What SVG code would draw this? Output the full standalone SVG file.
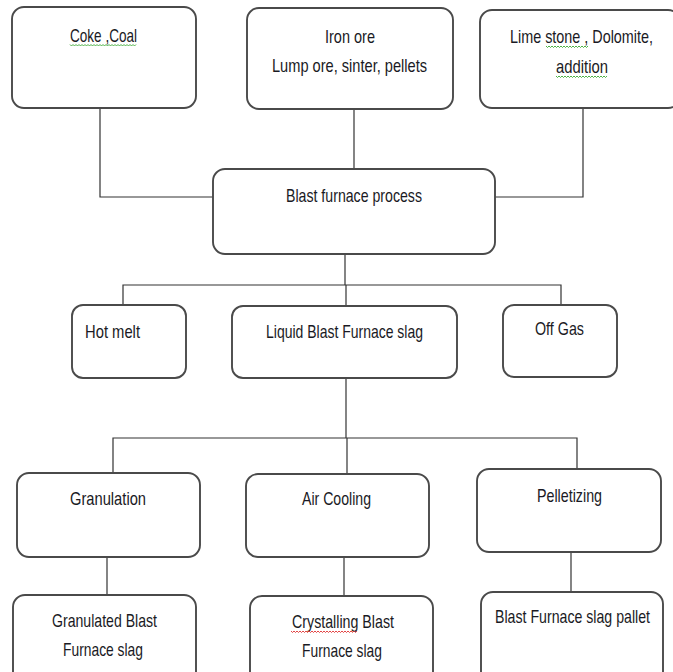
<svg xmlns="http://www.w3.org/2000/svg" width="673" height="672" viewBox="0 0 673 672">
<style>
.box{fill:#fff;stroke:#4a4a4a;stroke-width:1.9}
.lbl{font-family:"Liberation Sans Narrow","Liberation Sans",Arial,sans-serif;font-size:19px;fill:#1a1a24;text-anchor:middle}
.conn{fill:none;stroke:#333;stroke-width:1.2}
.sqg{fill:none;stroke:#3aa832;stroke-width:0.9}
.sqr{fill:none;stroke:#e03030;stroke-width:0.9}
</style>
<rect width="673" height="672" fill="#fff"/>
<g id="connectors">
<path class="conn" d="M100,108 V197 H213"/>
<path class="conn" d="M354,109 V169"/>
<path class="conn" d="M583,108 V197 H495"/>
<path class="conn" d="M345,254 V285"/>
<path class="conn" d="M123,305 V285 H561 V305"/>
<path class="conn" d="M346,285 V306"/>
<path class="conn" d="M346,378 V438"/>
<path class="conn" d="M113,473 V438 H577 V469"/>
<path class="conn" d="M347,438 V474"/>
<path class="conn" d="M107,557 V595"/>
<path class="conn" d="M344,557 V597"/>
<path class="conn" d="M571,552 V593"/>
</g>
<g id="coke">
<rect class="box" x="12" y="7" width="184" height="101" rx="12"/>
<text class="lbl" x="103.5" y="42" textLength="67" lengthAdjust="spacingAndGlyphs">Coke ,Coal</text>
</g>
<g id="iron">
<rect class="box" x="247" y="8" width="206" height="101" rx="12"/>
<text class="lbl" x="350" y="43" textLength="50" lengthAdjust="spacingAndGlyphs">Iron ore</text>
<text class="lbl" x="349.5" y="72" textLength="155" lengthAdjust="spacingAndGlyphs">Lump ore, sinter, pellets</text>
</g>
<g id="lime">
<rect class="box" x="480" y="10" width="200" height="98" rx="12"/>
<text class="lbl" x="581.5" y="43" textLength="143" lengthAdjust="spacingAndGlyphs">Lime stone , Dolomite,</text>
<text class="lbl" x="582" y="73" textLength="52" lengthAdjust="spacingAndGlyphs">addition</text>
</g>
<g id="blast">
<rect class="box" x="213" y="169" width="282" height="85" rx="12"/>
<text class="lbl" x="354" y="202" textLength="136" lengthAdjust="spacingAndGlyphs">Blast furnace process</text>
</g>
<g id="hotmelt">
<rect class="box" x="72" y="305" width="114" height="73" rx="11"/>
<text class="lbl" x="112.5" y="338" textLength="55" lengthAdjust="spacingAndGlyphs">Hot melt</text>
</g>
<g id="liquid">
<rect class="box" x="232" y="306" width="225" height="72" rx="11"/>
<text class="lbl" x="344.5" y="338" textLength="157" lengthAdjust="spacingAndGlyphs">Liquid Blast Furnace slag</text>
</g>
<g id="offgas">
<rect class="box" x="503" y="305" width="114" height="72" rx="11"/>
<text class="lbl" x="559.5" y="335" textLength="49" lengthAdjust="spacingAndGlyphs">Off Gas</text>
</g>
<g id="granulation">
<rect class="box" x="17" y="473" width="183" height="84" rx="12"/>
<text class="lbl" x="108" y="505" textLength="76" lengthAdjust="spacingAndGlyphs">Granulation</text>
</g>
<g id="aircooling">
<rect class="box" x="246" y="474" width="183" height="83" rx="12"/>
<text class="lbl" x="336.5" y="505" textLength="69" lengthAdjust="spacingAndGlyphs">Air Cooling</text>
</g>
<g id="pelletizing">
<rect class="box" x="477" y="469" width="184" height="83" rx="12"/>
<text class="lbl" x="569.5" y="502" textLength="65" lengthAdjust="spacingAndGlyphs">Pelletizing</text>
</g>
<g id="granulated">
<rect class="box" x="13" y="595" width="183" height="100" rx="12"/>
<text class="lbl" x="104.5" y="627" textLength="105" lengthAdjust="spacingAndGlyphs">Granulated Blast</text>
<text class="lbl" x="103" y="656" textLength="80" lengthAdjust="spacingAndGlyphs">Furnace slag</text>
</g>
<g id="crystalling">
<rect class="box" x="250" y="596" width="183" height="100" rx="12"/>
<text class="lbl" x="343" y="628" textLength="102" lengthAdjust="spacingAndGlyphs">Crystalling Blast</text>
<text class="lbl" x="342" y="657" textLength="80" lengthAdjust="spacingAndGlyphs">Furnace slag</text>
</g>
<g id="pallet">
<rect class="box" x="481" y="592" width="182" height="100" rx="12"/>
<text class="lbl" x="572.5" y="623" textLength="155" lengthAdjust="spacingAndGlyphs">Blast Furnace slag pallet</text>
</g>
<g id="spellcheck">
<path class="sqg" d="M70,44.5 l1.5,1.5 l1.5,-1.5 l1.5,1.5 l1.5,-1.5 l1.5,1.5 l1.5,-1.5 l1.5,1.5 l1.5,-1.5 l1.5,1.5 l1.5,-1.5 l1.5,1.5 l1.5,-1.5 l1.5,1.5 l1.5,-1.5 l1.5,1.5 l1.5,-1.5 l1.5,1.5 l1.5,-1.5 l1.5,1.5 l1.5,-1.5 l1.5,1.5 l1.5,-1.5 l1.5,1.5 l1.5,-1.5 l1.5,1.5 l1.5,-1.5 l1.5,1.5 l1.5,-1.5 l1.5,1.5 l1.5,-1.5 l1.5,1.5 l1.5,-1.5 l1.5,1.5 l1.5,-1.5 l1.5,1.5 l1.5,-1.5 l1.5,1.5 l1.5,-1.5 l1.5,1.5 l1.5,-1.5 l1.5,1.5 l1.5,-1.5 l1.5,1.5 l1.5,-1.5"/>
<path class="sqg" d="M546,46 l1.5,1.5 l1.5,-1.5 l1.5,1.5 l1.5,-1.5 l1.5,1.5 l1.5,-1.5 l1.5,1.5 l1.5,-1.5 l1.5,1.5 l1.5,-1.5 l1.5,1.5 l1.5,-1.5 l1.5,1.5 l1.5,-1.5 l1.5,1.5 l1.5,-1.5 l1.5,1.5 l1.5,-1.5 l1.5,1.5 l1.5,-1.5 l1.5,1.5 l1.5,-1.5 l1.5,1.5 l1.5,-1.5 l1.5,1.5 l1.5,-1.5 l1.5,1.5 l1.5,-1.5"/>
<path class="sqg" d="M556,76 l1.5,1.5 l1.5,-1.5 l1.5,1.5 l1.5,-1.5 l1.5,1.5 l1.5,-1.5 l1.5,1.5 l1.5,-1.5 l1.5,1.5 l1.5,-1.5 l1.5,1.5 l1.5,-1.5 l1.5,1.5 l1.5,-1.5 l1.5,1.5 l1.5,-1.5 l1.5,1.5 l1.5,-1.5 l1.5,1.5 l1.5,-1.5 l1.5,1.5 l1.5,-1.5 l1.5,1.5 l1.5,-1.5 l1.5,1.5 l1.5,-1.5 l1.5,1.5 l1.5,-1.5 l1.5,1.5 l1.5,-1.5 l1.5,1.5 l1.5,-1.5 l1.5,1.5 l1.5,-1.5"/>
<path class="sqr" d="M291,631 l1.5,1.5 l1.5,-1.5 l1.5,1.5 l1.5,-1.5 l1.5,1.5 l1.5,-1.5 l1.5,1.5 l1.5,-1.5 l1.5,1.5 l1.5,-1.5 l1.5,1.5 l1.5,-1.5 l1.5,1.5 l1.5,-1.5 l1.5,1.5 l1.5,-1.5 l1.5,1.5 l1.5,-1.5 l1.5,1.5 l1.5,-1.5 l1.5,1.5 l1.5,-1.5 l1.5,1.5 l1.5,-1.5 l1.5,1.5 l1.5,-1.5 l1.5,1.5 l1.5,-1.5 l1.5,1.5 l1.5,-1.5 l1.5,1.5 l1.5,-1.5 l1.5,1.5 l1.5,-1.5 l1.5,1.5 l1.5,-1.5 l1.5,1.5 l1.5,-1.5 l1.5,1.5 l1.5,-1.5 l1.5,1.5 l1.5,-1.5 l1.5,1.5 l1.5,-1.5"/>
</g>
</svg>
